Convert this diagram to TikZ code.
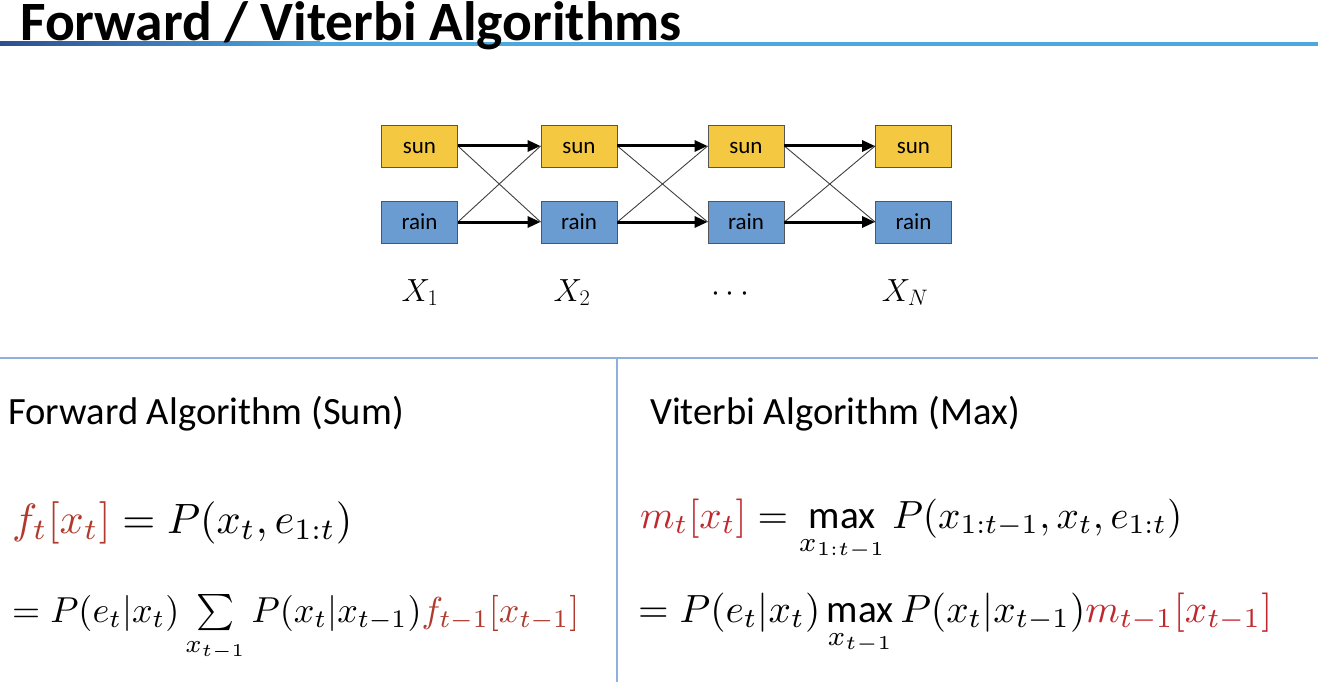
\documentclass[tikz,border=0pt]{standalone}
\usepackage{fix-cm}
\usepackage{amsmath}
\usepackage{graphicx}
\usepackage{fontspec}
\newfontfamily\carl{Carlito}
\usetikzlibrary{arrows.meta}
\definecolor{sunc}{HTML}{F5C842}
\definecolor{rainc}{HTML}{6A9BD1}
\definecolor{boxline}{HTML}{555555}
\definecolor{tdark}{HTML}{2E4F8F}
\definecolor{tlight}{HTML}{4DA8E0}
\definecolor{sepc}{HTML}{8DB0DC}
\definecolor{fred}{HTML}{B03A2E}
\definecolor{vred}{HTML}{C0282D}
\newcommand{\mymax}{\mathop{\text{\carl max}}\limits}
\begin{document}
\begin{tikzpicture}[x=1pt,y=-1pt,
  statebox/.style={draw=boxline,line width=0.8pt,minimum width=76pt,minimum height=42pt,inner sep=0pt,text height=15pt,text depth=0pt,font=\carl\fontsize{23}{26}\selectfont},
  sunbox/.style={statebox,fill=sunc},
  rainbox/.style={statebox,fill=rainc},
  thick arrow/.style={line width=3pt,-{Triangle[length=13pt,width=11pt]}},
  thin link/.style={line width=0.9pt,draw=black!75},
  varlabel/.style={anchor=base,inner sep=0pt,font=\fontsize{32}{36}\selectfont},
  heading/.style={anchor=base west,inner sep=0pt,font=\carl\fontsize{38.6}{42}\selectfont},
  formula/.style={anchor=base west,inner sep=0pt},
  sep/.style={draw=sepc,line width=1.8pt}]
\useasboundingbox (0,0) rectangle (1318,682);
\fill[white] (0,0) rectangle (1318,682);
% title rule
\shade[left color=tdark,right color=tlight] (0,42) rectangle (320,46);
\fill[tlight] (320,42) rectangle (1318,46);
\node[anchor=base west,inner sep=0pt,font=\carl\bfseries\fontsize{55.5}{60}\selectfont] (title) at (20,41) {Forward / Viterbi Algorithms};
% trellis
\node[sunbox] (s1) at (419.5,146) {sun};
\node[sunbox] (s2) at (579,146) {sun};
\node[sunbox] (s3) at (746,146) {sun};
\node[sunbox] (s4) at (913.5,146) {sun};
\node[rainbox] (r1) at (419.5,222) {rain};
\node[rainbox] (r2) at (579,222) {rain};
\node[rainbox] (r3) at (746,222) {rain};
\node[rainbox] (r4) at (913.5,222) {rain};
\foreach \a/\b in {1/2,2/3,3/4}{
  \draw[thin link] (s\a.east) -- (r\b.west);
  \draw[thin link] (r\a.east) -- (s\b.west);
  \draw[thick arrow] (s\a.east) -- (s\b.west);
  \draw[thick arrow] (r\a.east) -- (r\b.west);
}
\node[varlabel] (x1) at (420,301) {$X_1$};
\node[varlabel] (x2) at (572,301) {$X_2$};
\node[varlabel] (xd) at (733,301) {$\cdots$};
\node[varlabel] (xn) at (905,301) {$X_N$};
% separators
\coordinate (hl) at (0,358);
\coordinate (hr) at (1318,358);
\coordinate (vt) at (617,358);
\coordinate (vb) at (617,682);
\draw[sep] (hl) -- (hr);
\draw[sep] (vt) -- (vb);
% headings
\node[heading] (fh) at (8,424) {Forward Algorithm (Sum)};
\node[heading] (vh) at (650,424) {Viterbi Algorithm (Max)};
% formulas
\node[formula] (f1) at (12,533) {\resizebox{340pt}{!}{${\color{fred}f_t[x_t]} = P(x_t, e_{1:t})$}};
\node[formula] (f2) at (12,622) {\resizebox{567pt}{!}{$= P(e_t|x_t) \sum\limits_{x_{t-1}} P(x_t|x_{t-1}){\color{fred}f_{t-1}[x_{t-1}]}$}};
\node[formula] (v1) at (640,528) {\resizebox{542pt}{!}{${\color{vred}m_t[x_t]} = \mymax_{x_{1:t-1}} P(x_{1:t-1}, x_t, e_{1:t})$}};
\node[formula] (v2) at (638,622) {\resizebox{634pt}{!}{$= P(e_t|x_t)\mymax_{x_{t-1}} P(x_t|x_{t-1}){\color{vred}m_{t-1}[x_{t-1}]}$}};
\end{tikzpicture}
\end{document}
